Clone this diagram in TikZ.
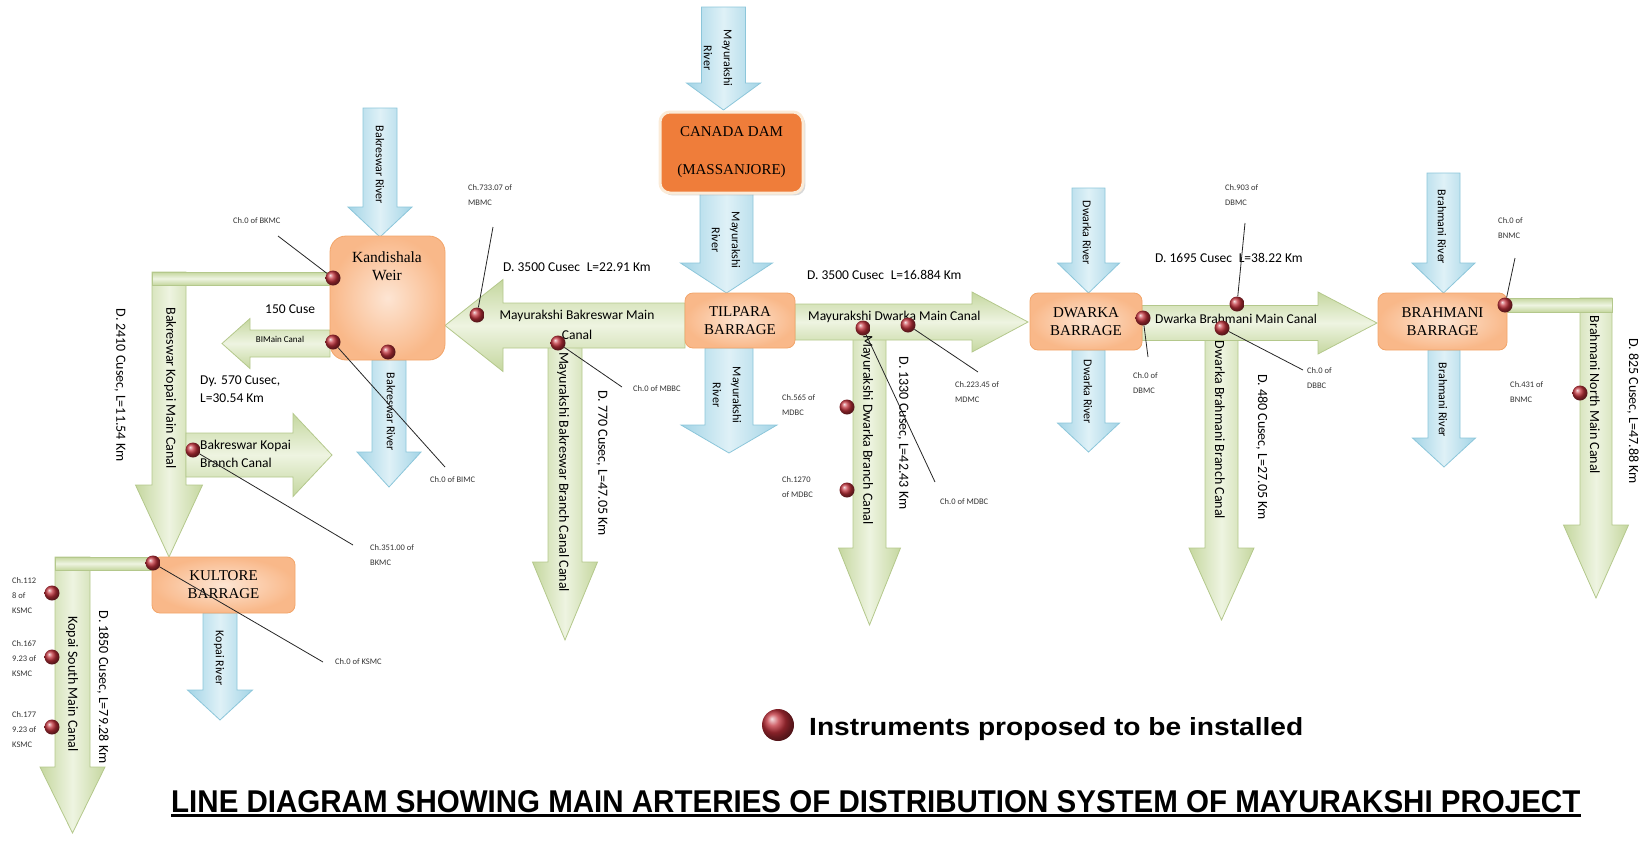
\documentclass[tikz,border=0pt]{standalone}
\usepackage{fontspec}
\setmainfont{Carlito}
\newfontfamily\boxfont{Liberation Serif}
\newfontfamily\headfont{Liberation Sans}
\usetikzlibrary{
  shadows
}
\definecolor{canaldark}{HTML}{C5D79F}
\definecolor{canallight}{HTML}{EEF4E1}
\definecolor{canaledge}{HTML}{B4C88C}
\definecolor{riverdark}{HTML}{A3D4E6}
\definecolor{riverlight}{HTML}{DFF1F7}
\definecolor{riveredge}{HTML}{8CC6DA}
\definecolor{peachdark}{HTML}{F9B889}
\definecolor{peachlight}{HTML}{FDE5D3}
\definecolor{peachedge}{HTML}{F2A56A}
\definecolor{damfill}{HTML}{EF7D3A}
\definecolor{damedge}{HTML}{FBEBD8}
\definecolor{instred}{HTML}{C0303A}
% down arrow: style, x centre, y top, y tip, shaft half, head half, head length
\newcommand{\downblock}[7]{%
  \path[#1] ({#2-#5},{#3}) -- ({#2+#5},{#3}) -- ({#2+#5},{#4-#7}) -- ({#2+#6},{#4-#7})
    -- ({#2},{#4}) -- ({#2-#6},{#4-#7}) -- ({#2-#5},{#4-#7}) -- cycle;}
% side arrow: style, y centre, x start, x tip, shaft half, head half, head length (negative: to the left)
\newcommand{\sideblock}[7]{%
  \path[#1] ({#3},{#2-#5}) -- ({#4-(#7)},{#2-#5}) -- ({#4-(#7)},{#2-#6}) -- ({#4},{#2})
    -- ({#4-(#7)},{#2+#6}) -- ({#4-(#7)},{#2+#5}) -- ({#3},{#2+#5}) -- cycle;}
\tikzset{
  x=1pt, y=-1pt,
  canalv/.style={draw=canaledge, line width=0.8pt, left color=canaldark, right color=canaldark, middle color=canallight},
  canalh/.style={draw=canaledge, line width=0.8pt, top color=canaldark, bottom color=canaldark, middle color=canallight},
  river/.style={draw=riveredge, line width=0.8pt, left color=riverdark, right color=riverdark, middle color=riverlight},
  barrage/.style={draw=peachedge, line width=0.8pt, rounded corners=8pt, inner color=peachlight, outer color=peachdark},
  dam/.style={draw=damedge, line width=3pt, rounded corners=10pt, fill=damfill, drop shadow={opacity=0.3}},
  inst/.style={circle, inner sep=0pt, minimum size=15pt, ball color=instred},
  leader/.style={draw=black!85, line width=0.8pt},
  chlabel/.style={inner sep=0pt, anchor=west, align=left, text=black!80, font=\fontsize{8.5}{15}\selectfont},
  canaltext/.style={inner sep=0pt, font=\fontsize{13.5}{18}\selectfont},
  vtext/.style={inner sep=0pt, rotate=-90, font=\fontsize{14}{16}\selectfont},
  rivertext/.style={inner sep=0pt, rotate=-90, align=center, font=\fontsize{12}{20}\selectfont},
  boxtext/.style={inner sep=0pt, align=center, font=\boxfont\fontsize{15}{18}\selectfont}
}
\begin{document}
\begin{tikzpicture}
  \useasboundingbox (0,0) rectangle (1648,841);
  % rivers
  \downblock{river}{380}{108}{237}{17}{32}{30}
  \downblock{river}{389}{360}{487}{17}{32}{35}
  \downblock{river}{723.5}{7}{110}{22}{37}{27}
  \downblock{river}{726.5}{193}{293}{26.5}{46}{30}
  \downblock{river}{729}{348}{453}{24}{48}{28}
  \downblock{river}{1088.5}{188}{293}{16.5}{31}{30}
  \downblock{river}{1088.5}{350}{452}{16.5}{31}{29}
  \downblock{river}{1443.5}{173}{293}{16.5}{31.5}{30}
  \downblock{river}{1444}{350}{467}{16}{31.5}{29}
  \downblock{river}{220}{613}{720}{17}{32.5}{30}
  % branch canals
  \downblock{canalv}{169}{272}{557}{17}{33.5}{72}
  \downblock{canalv}{72.5}{557}{833}{17.5}{32.5}{66}
  \downblock{canalv}{565}{340}{640}{17}{32.5}{78}
  \downblock{canalv}{869.5}{335}{625}{16.5}{31}{77}
  \downblock{canalv}{1221.5}{335}{620}{16.5}{32.5}{72}
  \downblock{canalv}{1596}{298}{598}{16}{32.5}{73}
  % main canals
  \path[canalh] (152,272) rectangle (330,285);
  \path[canalh] (55,557) rectangle (152,570);
  \path[canalh] (1507,298) rectangle (1612,312);
  \sideblock{canalh}{343.5}{330}{222}{13.5}{25}{-28}
  \sideblock{canalh}{455}{186}{332}{22}{41.5}{39}
  \sideblock{canalh}{325.5}{685}{445}{22.5}{46}{-58}
  \sideblock{canalh}{322}{795}{1028}{18}{30}{56}
  \sideblock{canalh}{323}{1142}{1377}{17.5}{31}{59}

  % barrages
  \node[barrage, rounded corners=16pt, minimum width=115pt, minimum height=124pt] (kandishala) at (387.5,298) {};
  \node[boxtext, font=\boxfont\fontsize{15.5}{18}\selectfont] (kandishalatext) at (387,266) {Kandishala\\Weir};
  \node[dam, boxtext, minimum width=143pt, minimum height=81pt] (canada) at (731.5,152.5) {CANADA DAM\\[20pt](MASSANJORE)};
  \node[barrage, boxtext, minimum width=110pt, minimum height=55pt] (tilpara) at (740,320.5) {TILPARA\\BARRAGE};
  \node[barrage, boxtext, minimum width=112pt, minimum height=57pt] (dwarka) at (1086,321.5) {DWARKA\\BARRAGE};
  \node[barrage, boxtext, minimum width=129pt, minimum height=57pt] (brahmani) at (1442.5,321.5) {BRAHMANI\\BARRAGE};
  \node[barrage, boxtext, minimum width=143pt, minimum height=56pt] (kultore) at (223.5,585) {KULTORE\\BARRAGE};

  % river names
  \node[rivertext] (bakrin) at (380,165) {Bakreswar River};
  \node[rivertext] (bakrout) at (391,412) {Bakreswar River};
  \node[rivertext] (mayur1) at (718,58) {Mayurakshi\\River};
  \node[rivertext] (mayur2) at (726,240) {Mayurakshi\\River};
  \node[rivertext] (mayur3) at (727,395) {Mayurakshi\\River};
  \node[rivertext] (dwarin) at (1087,233) {Dwarka River};
  \node[rivertext] (dwarout) at (1088,392) {Dwarka River};
  \node[rivertext] (brahin) at (1442,227) {Brahmani River};
  \node[rivertext] (brahout) at (1443,400) {Brahmani River};
  \node[rivertext] (kopai) at (219,658) {Kopai River};

  % canal names and discharges
  \node[canaltext, anchor=west] (bimcq) at (265,309) {150 Cuse};
  \node[canaltext, font=\fontsize{9}{11}\selectfont] (bimc) at (280,339) {BIMain Canal};
  \node[canaltext, anchor=west, align=left] (bimcd) at (200,389) {Dy. 570 Cusec,\\L=30.54 Km};
  \node[canaltext, anchor=west, align=left] (bkbc) at (200,454) {Bakreswar Kopai\\Branch Canal};
  \node[vtext] (bkmcd) at (120,385) {D. 2410 Cusec, L=11.54 Km};
  \node[vtext] (bkmc) at (170,388) {Bakreswar Kopai Main Canal};
  \node[vtext] (ksmc) at (72,684) {Kopai South Main Canal};
  \node[vtext] (ksmcd) at (103,687) {D. 1850 Cusec, L=79.28 Km};
  \node[canaltext, anchor=west] (mbmcd) at (503,267) {D. 3500 Cusec\enspace L=22.91 Km};
  \node[canaltext, align=center, font=\fontsize{13.5}{20}\selectfont] (mbmc) at (577,325) {Mayurakshi Bakreswar Main\\Canal};
  \node[vtext] (mbbc) at (563,472) {Mayurakshi Bakreswar Branch Canal Canal};
  \node[vtext] (mbbcd) at (602,463) {D. 770 Cusec, L=47.05 Km};
  \node[canaltext, anchor=west] (mdmcd) at (807,275) {D. 3500 Cusec\enspace L=16.884 Km};
  \node[canaltext, anchor=west] (mdmc) at (808,317) {Mayurakshi Dwarka Main Canal};
  \node[vtext] (mdbc) at (867,430) {Mayurakshi Dwarka Branch Canal};
  \node[vtext] (mdbcd) at (903,433) {D. 1330 Cusec, L=42.43 Km};
  \node[canaltext, anchor=west] (dbmcd) at (1155,258) {D. 1695 Cusec\enspace L=38.22 Km};
  \node[canaltext, anchor=west] (dbmc) at (1155,319) {Dwarka Brahmani Main Canal};
  \node[vtext] (dbbc) at (1220,430) {Dwarka Brahmani Branch Canal};
  \node[vtext] (dbbcd) at (1262,447) {D. 480 Cusec, L=27.05 Km};
  \node[vtext] (bnmc) at (1595,395) {Brahmani North Main Canal};
  \node[vtext] (bnmcd) at (1633,411) {D. 825 Cusec, L=47.88 Km};

  % instruments
  \node[inst] (bkmc0) at (333,278) {};
  \node[inst] (bimc0) at (333,342) {};
  \node[inst] (kand0) at (388,352) {};
  \node[inst] (bkbc0) at (193,450) {};
  \node[inst] (ksmc0) at (153,563) {};
  \node[inst] (ksmc1) at (52,593) {};
  \node[inst] (ksmc2) at (52,657) {};
  \node[inst] (ksmc3) at (52,727) {};
  \node[inst] (mbmc0) at (477,315) {};
  \node[inst] (mbbc0) at (558,343) {};
  \node[inst] (mdbc0) at (863,328) {};
  \node[inst] (mdmc0) at (908,325) {};
  \node[inst] (mdbc1) at (847,407) {};
  \node[inst] (mdbc2) at (847,490) {};
  \node[inst] (dbmc0) at (1143,318) {};
  \node[inst] (dbmc1) at (1237,304) {};
  \node[inst] (dbbc0) at (1222,328) {};
  \node[inst] (bnmc0) at (1505,305) {};
  \node[inst] (bnmc1) at (1580,393) {};

  % chainage labels
  \node[chlabel] (bkmc0l) at (233,221) {Ch.0 of BKMC};
  \node[chlabel] (bimc0l) at (430,480) {Ch.0 of BIMC};
  \node[chlabel] (bkbc0l) at (370,555.5) {Ch.351.00 of\\BKMC};
  \node[chlabel] (ksmc0l) at (335,662) {Ch.0 of KSMC};
  \node[chlabel] (ksmc1l) at (12,596) {Ch.112\\8 of\\KSMC};
  \node[chlabel] (ksmc2l) at (12,659) {Ch.167\\9.23 of\\KSMC};
  \node[chlabel] (ksmc3l) at (12,729.5) {Ch.177\\9.23 of\\KSMC};
  \node[chlabel] (mbmc0l) at (468,195.5) {Ch.733.07 of\\MBMC};
  \node[chlabel] (mbbc0l) at (633,389) {Ch.0 of MBBC};
  \node[chlabel] (mdbc0l) at (940,502) {Ch.0 of MDBC};
  \node[chlabel] (mdmc0l) at (955,392) {Ch.223.45 of\\MDMC};
  \node[chlabel] (mdbc1l) at (782,405.5) {Ch.565 of\\MDBC};
  \node[chlabel] (mdbc2l) at (782,487.5) {Ch.1270\\of MDBC};
  \node[chlabel] (dbmc0l) at (1133,383) {Ch.0 of\\DBMC};
  \node[chlabel] (dbmc1l) at (1225,195.5) {Ch.903 of\\DBMC};
  \node[chlabel] (dbbc0l) at (1307,378) {Ch.0 of\\DBBC};
  \node[chlabel] (bnmc0l) at (1498,228.5) {Ch.0 of\\BNMC};
  \node[chlabel] (bnmc1l) at (1510,392.5) {Ch.431 of\\BNMC};

  \coordinate (bkmc0e) at (278,236);
  \coordinate (bimc0e) at (445,467);
  \coordinate (bkbc0e) at (353,545);
  \coordinate (ksmc0e) at (323,662);
  \coordinate (mbmc0e) at (493,227);
  \coordinate (mbbc0e) at (622,387);
  \coordinate (mdbc0e) at (935,482);
  \coordinate (mdmc0e) at (978,372);
  \coordinate (dbmc0e) at (1148,357);
  \coordinate (dbmc1e) at (1245,223);
  \coordinate (dbbc0e) at (1303,370);
  \coordinate (bnmc0e) at (1515,258);
  \draw[leader] (bkmc0e) -- (bkmc0);
  \draw[leader] (bimc0e) -- (bimc0);
  \draw[leader] (bkbc0e) -- (bkbc0);
  \draw[leader] (ksmc0e) -- (ksmc0);
  \draw[leader] (mbmc0e) -- (mbmc0);
  \draw[leader] (mbbc0e) -- (mbbc0);
  \draw[leader] (mdbc0e) -- (mdbc0);
  \draw[leader] (mdmc0e) -- (mdmc0);
  \draw[leader] (dbmc0e) -- (dbmc0);
  \draw[leader] (dbmc1e) -- (dbmc1);
  \draw[leader] (dbbc0e) -- (dbbc0);
  \draw[leader] (bnmc0e) -- (bnmc0);

  % legend and title
  \node[inst, minimum size=32pt] (legenddot) at (778,725) {};
  \node[anchor=base west, inner sep=0pt] (legendtext) at (809,735)
    {\resizebox{494pt}{18pt}{\headfont\bfseries Instruments proposed to be installed}};
  \node[anchor=base west, inner sep=0pt] (title) at (171,812)
    {\resizebox{1409pt}{22pt}{\headfont\bfseries LINE DIAGRAM SHOWING MAIN ARTERIES OF DISTRIBUTION SYSTEM OF MAYURAKSHI PROJECT}};
  \draw[line width=2.2pt] ([yshift=-3.5pt]title.base west) -- ([yshift=-3.5pt]title.base east);
\end{tikzpicture}
\end{document}
